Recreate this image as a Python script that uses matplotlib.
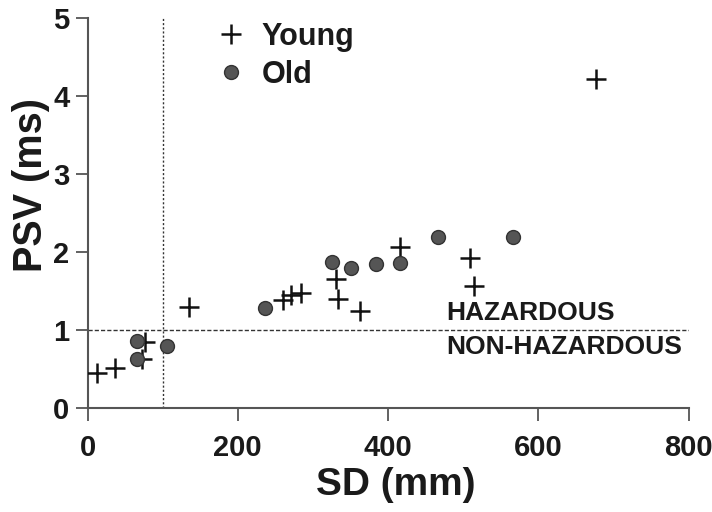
import matplotlib.pyplot as plt

plt.rcParams['font.family'] = ['Liberation Sans', 'DejaVu Sans']

# Young subjects (crosses)
young_sd = [13, 37, 72, 77, 135, 260, 271, 284, 331, 334, 363, 416, 509, 515, 677]
young_psv = [0.45, 0.51, 0.63, 0.85, 1.30, 1.39, 1.45, 1.47, 1.66, 1.40, 1.24, 2.07, 1.92, 1.56, 4.22]

# Old subjects (dots)
old_sd = [66, 66, 106, 236, 325, 351, 384, 416, 466, 566]
old_psv = [0.86, 0.63, 0.80, 1.28, 1.875, 1.80, 1.84, 1.86, 2.19, 2.19]

fig = plt.figure(figsize=(7.12, 5.12), dpi=100)
ax = fig.add_axes([0.123, 0.203, 0.844, 0.762])

ax.axhline(1, color='#333333', lw=1, ls=(0, (3, 1.5)), zorder=1)
ax.axvline(100, color='#333333', lw=1, ls=(0, (1.5, 1.5)), zorder=1)

ax.plot(young_sd, young_psv, ls='none', marker='+', ms=15, mew=1.8,
        color='#111111', label='Young', zorder=3)
ax.plot(old_sd, old_psv, ls='none', marker='o', ms=10, mfc='#555555',
        mec='#333333', mew=1, label='Old', zorder=3)

ax.text(477, 1.06, 'HAZARDOUS', fontsize=19, fontweight='bold', color='#1a1a1a',
        va='bottom', ha='left')
ax.text(477, 0.94, 'NON-HAZARDOUS', fontsize=19, fontweight='bold', color='#1a1a1a',
        va='top', ha='left')

ax.set_xlim(0, 800)
ax.set_ylim(0, 5)
ax.set_xticks([0, 200, 400, 600, 800])
ax.set_yticks([0, 1, 2, 3, 4, 5])
for s in ['top', 'right']:
    ax.spines[s].set_visible(False)
for s in ['left', 'bottom']:
    ax.spines[s].set_color('#555555')
    ax.spines[s].set_linewidth(1.5)
ax.tick_params(direction='out', length=9, width=1.3, color='#555555',
               labelsize=21, pad=4, labelcolor='#1a1a1a')
ax.tick_params(axis='x', pad=10)
for lab in ax.get_xticklabels() + ax.get_yticklabels():
    lab.set_fontweight('bold')

ax.set_xlabel('SD (mm)', fontsize=28, fontweight='bold', color='#1a1a1a')
ax.set_ylabel('PSV (ms)', fontsize=28.5, fontweight='bold', color='#1a1a1a')
ax.xaxis.set_label_coords(0.512, -0.152)
ax.yaxis.set_label_coords(-0.062, 0.572)

leg = ax.legend(frameon=False, loc='upper left', bbox_to_anchor=(0.155, 1.06),
                fontsize=22, handletextpad=0.25, labelspacing=0.25, handlelength=1.5)
for t in leg.get_texts():
    t.set_fontweight('bold')
    t.set_color('#1a1a1a')

fig.savefig('out.png', dpi=100)
